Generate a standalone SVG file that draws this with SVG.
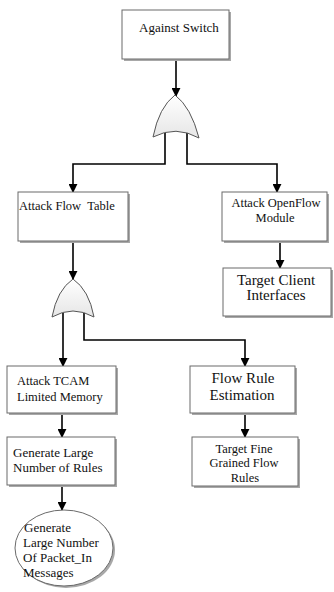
<svg xmlns="http://www.w3.org/2000/svg" width="334" height="592" viewBox="0 0 334 592">
  <defs>
    <marker id="arrow" viewBox="0 0 10 10" refX="9" refY="5" markerWidth="9" markerHeight="9" markerUnits="userSpaceOnUse" orient="auto">
      <path d="M0,0 L10,5 L0,10 Z" fill="#000"/>
    </marker>
    <linearGradient id="gateFill" x1="0" y1="0" x2="0" y2="1">
      <stop offset="0" stop-color="#ffffff"/>
      <stop offset="1" stop-color="#e6e6e6"/>
    </linearGradient>
  </defs>
  <style>
    .box { fill: #ffffff; stroke: #6a6a6a; stroke-width: 1; }
    .shadow { fill: #a8a8a8; }
    .gate { fill: url(#gateFill); stroke: #555; stroke-width: 1; }
    .wire { fill: none; stroke: #000; stroke-width: 1.6; }
    .arr { fill: none; stroke: #000; stroke-width: 1.6; marker-end: url(#arrow); }
    text { font-family: "Liberation Serif", "Times New Roman", serif; fill: #111; }
    .s { font-size: 12.5px; }
    .m { font-size: 13px; }
    .l { font-size: 15px; }
    .c { text-anchor: middle; }
  </style>

  <rect width="334" height="592" fill="#ffffff"/>

  <!-- connectors -->
  <g id="connectors">
    <line class="arr" x1="176" y1="59" x2="176" y2="96"/>
    <polyline class="arr" points="165,133 165,164 73,164 73,192"/>
    <polyline class="arr" points="187,133 187,164 277,164 277,192"/>
    <line class="arr" x1="73" y1="241" x2="73" y2="279"/>
    <line class="arr" x1="280" y1="241" x2="280" y2="268"/>
    <line class="arr" x1="63" y1="313" x2="63" y2="366"/>
    <polyline class="arr" points="84,313 84,340 245,340 245,366"/>
    <line class="arr" x1="62" y1="413" x2="62" y2="437"/>
    <line class="arr" x1="245" y1="415" x2="245" y2="437"/>
    <line class="arr" x1="62" y1="485" x2="62" y2="510"/>
  </g>

  <!-- OR gates -->
  <g id="gate-switch">
    <path class="gate" d="M153,137 Q159,107 175,95 Q191,107 199,138 Q176,125 153,137 Z"/>
  </g>
  <g id="gate-flow-table">
    <path class="gate" d="M52,317 Q57,290 73,279 Q89,290 94,317 Q73,305 52,317 Z"/>
  </g>

  <g id="against-switch">
    <rect class="shadow" x="124" y="12" width="107" height="49"/>
    <rect class="box" x="122" y="10" width="107" height="49"/>
    <text class="m" x="139" y="32">Against Switch</text>
  </g>

  <g id="attack-flow-table">
    <rect class="shadow" x="20" y="194" width="110" height="49"/>
    <rect class="box" x="18" y="192" width="110" height="49"/>
    <text class="s" x="19" y="210" xml:space="preserve">Attack Flow  Table</text>
  </g>

  <g id="attack-openflow-module">
    <rect class="shadow" x="224" y="194" width="105" height="49"/>
    <rect class="box" x="222" y="192" width="105" height="49"/>
    <text class="s c" x="276" y="207">Attack OpenFlow</text>
    <text class="s c" x="275" y="222">Module</text>
  </g>

  <g id="target-client-interfaces">
    <rect class="shadow" x="225" y="270" width="108" height="48"/>
    <rect class="box" x="223" y="268" width="108" height="48"/>
    <text class="l c" x="276" y="285">Target Client</text>
    <text class="l c" x="276" y="300">Interfaces</text>
  </g>

  <g id="attack-tcam">
    <rect class="shadow" x="9" y="368" width="109" height="47"/>
    <rect class="box" x="7" y="366" width="109" height="47"/>
    <text class="s" x="17" y="385">Attack TCAM</text>
    <text class="s" x="17" y="401">Limited Memory</text>
  </g>

  <g id="flow-rule-estimation">
    <rect class="shadow" x="192" y="368" width="105" height="47"/>
    <rect class="box" x="190" y="366" width="105" height="47"/>
    <text class="l c" x="243" y="383">Flow Rule</text>
    <text class="l c" x="242" y="400">Estimation</text>
  </g>

  <g id="generate-rules">
    <rect class="shadow" x="9" y="439" width="108" height="48"/>
    <rect class="box" x="7" y="437" width="108" height="48"/>
    <text class="m" x="13" y="457">Generate Large</text>
    <text class="m" x="13" y="472">Number of Rules</text>
  </g>

  <g id="target-fine-grained">
    <rect class="shadow" x="194" y="439" width="106" height="49"/>
    <rect class="box" x="192" y="437" width="106" height="49"/>
    <text class="s c" x="244" y="453">Target Fine</text>
    <text class="s c" x="244" y="467">Grained Flow</text>
    <text class="s c" x="245" y="482">Rules</text>
  </g>

  <g id="packet-in-messages">
    <ellipse class="shadow" cx="66" cy="550" rx="49" ry="38"/>
    <ellipse class="box" cx="64" cy="548" rx="49" ry="38"/>
    <text class="m" x="24" y="532">Generate</text>
    <text class="m" x="23" y="547">Large Number</text>
    <text class="m" x="23" y="562">Of Packet_In</text>
    <text class="m" x="23" y="577">Messages</text>
  </g>
</svg>
